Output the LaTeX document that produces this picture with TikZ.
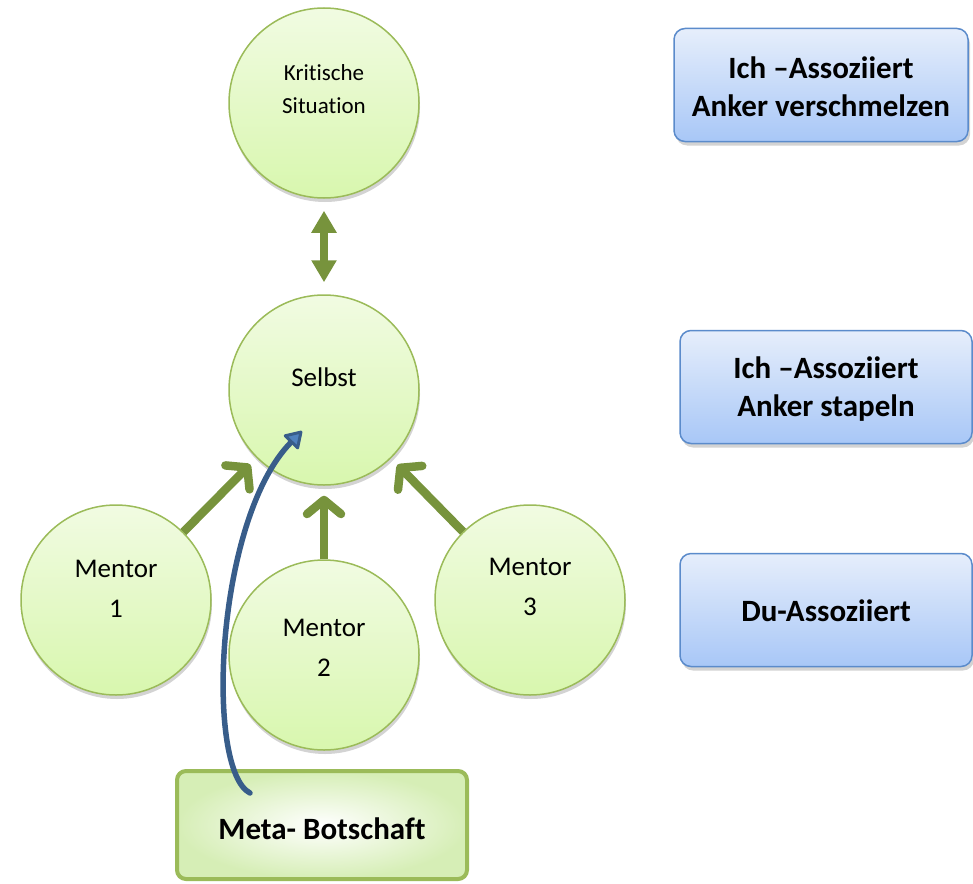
\documentclass[tikz,border=0pt]{standalone}
\usepackage{fontspec}
\setmainfont[Ligatures=NoCommon]{Carlito}
\usetikzlibrary{arrows.meta,shadows}
\definecolor{cborder}{HTML}{9BBB59}
\definecolor{ctop}{HTML}{F1FBE2}
\definecolor{cbot}{HTML}{D8F7AE}
\definecolor{garr}{HTML}{77933C}
\definecolor{btop}{HTML}{E6EEFB}
\definecolor{bbot}{HTML}{A8C7F7}
\definecolor{bborder}{HTML}{5B8BCB}
\definecolor{bline}{HTML}{385D8A}
\definecolor{bfill}{HTML}{4F81BD}
\definecolor{mout}{HTML}{D6EEB6}
\begin{document}
\begin{tikzpicture}[x=1pt,y=-1pt,
  circ/.style={circle, minimum size=190pt, inner sep=0pt, draw=cborder, line width=1.5pt,
     top color=ctop, bottom color=cbot,
     drop shadow={shadow xshift=1pt, shadow yshift=-4pt, opacity=0.35}},
  bbox/.style={rounded corners=11pt, draw=bborder, line width=1.5pt,
     top color=btop, bottom color=bbot, minimum height=113pt,
     drop shadow={shadow xshift=2pt, shadow yshift=-4pt, opacity=0.35}},
  smalltxt/.style={align=center, font=\fontsize{23}{33}\selectfont},
  midtxt/.style={align=center, font=\fontsize{27}{40}\selectfont},
  boldtxt/.style={align=center, font=\fontsize{31}{38}\selectfont\bfseries},
  garrow/.style={draw=garr, line width=8.5pt, -{Straight Barb[round,length=14pt,width=34pt]}},
  darrow/.style={draw=garr, line width=8pt, {Triangle[length=22pt,width=24pt]}-{Triangle[length=22pt,width=24pt]}},
  barrow/.style={draw=bline, line width=5.5pt, line cap=round, -{Triangle[length=18pt,width=22pt,fill=bfill,line width=3pt,round]}}
]
\useasboundingbox (0,0) rectangle (973,883);

% circles
\node[circ] (krit) at (324,103) {};
\node[circ] (selbst) at (324,390) {};
\node[circ] (m1) at (116,600) {};
\node[circ] (m2) at (324,655) {};
\node[circ] (m3) at (530,600) {};

\node[smalltxt] (kt) at (324,89) {Kritische\\Situation};
\node[midtxt] (st) at (324,377) {Selbst};
\node[midtxt] (m1t) at (116,589) {Mentor\\1};
\node[midtxt] (m2t) at (324,648) {Mentor\\2};
\node[midtxt] (m3t) at (530,587) {Mentor\\3};

% blue boxes
\node[bbox, minimum width=294pt] (b1) at (821,85) {};
\node[boldtxt] (b1t) at (821,87) {Ich –Assoziiert\\Anker verschmelzen};
\node[bbox, minimum width=292pt] (b2) at (826,387) {};
\node[boldtxt] (b2t) at (826,389) {Ich –Assoziiert\\Anker stapeln};
\node[bbox, minimum width=292pt] (b3) at (826,610) {};
\node[boldtxt] (b3t) at (826,611) {Du-Assoziiert};

% meta box
\node[rounded corners=9pt, draw=cborder, line width=4pt, inner color=white, outer color=mout,
  minimum width=290pt, minimum height=108pt] (meta) at (322,825) {};
\node[boldtxt] (metat) at (322,829) {Meta- Botschaft};

% arrows
\draw[darrow, shorten <=12pt, shorten >=12pt] (krit) -- (selbst);
\draw[garrow, shorten >=9pt] (m1) -- (selbst);
\draw[garrow, shorten >=10pt] (m2) -- (selbst);
\draw[garrow, shorten >=9pt] (m3) -- (selbst);

\coordinate (bs) at (250,793);
\coordinate (be) at (302,431);
\draw[barrow] (bs) .. controls (205,770) and (215,520) .. (be);
\end{tikzpicture}
\end{document}
